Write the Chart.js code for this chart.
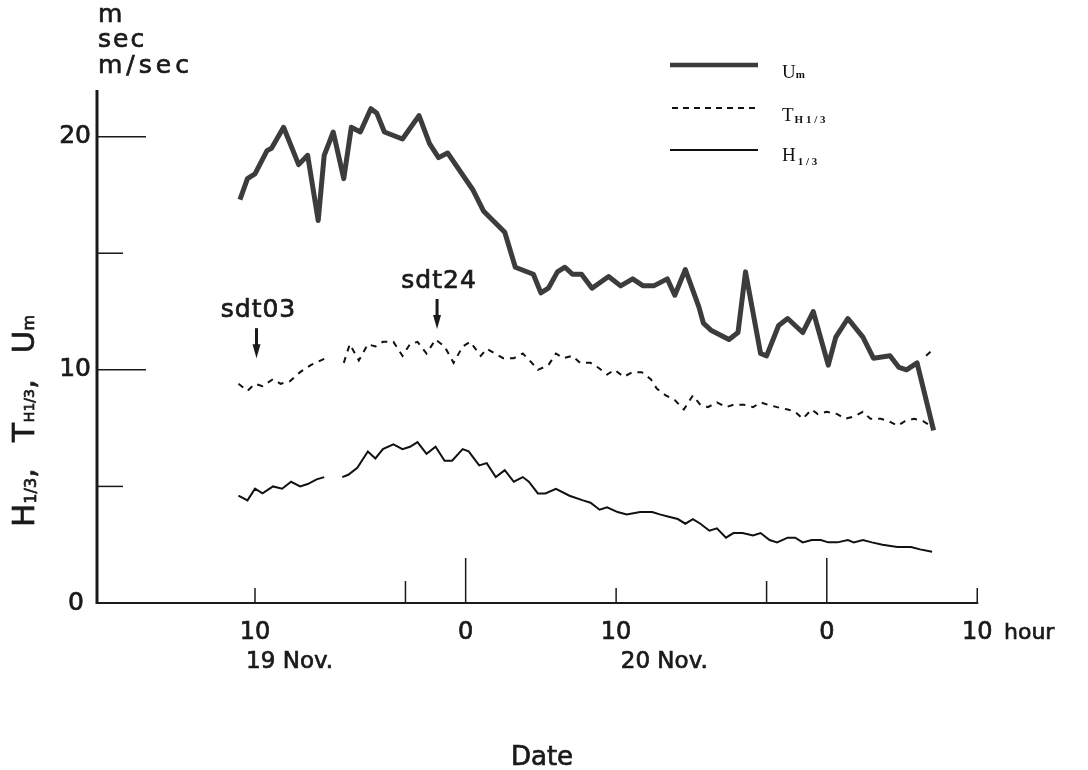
<!DOCTYPE html>
<html lang="en">
<head>
<meta charset="UTF-8">
<title>Um, TH1/3, H1/3</title>
<script src="https://cdn.jsdelivr.net/npm/chart.js"></script>
<style>
    html, body { margin: 0; padding: 0; background: #fff; }
</style>
</head>
<body>
<canvas id="chart" width="1088" height="770"></canvas>
<script>
// hours counted from 19 Nov. 00:00
const umHours = [9.0, 9.5, 10.0, 10.8, 11.1, 11.9, 12.9, 13.5, 14.2, 14.6, 15.2, 15.9, 16.4, 17.0, 17.7, 18.1, 18.6, 19.8, 20.9, 21.6, 22.2, 22.8, 24.5, 25.2, 26.6, 27.3, 28.5, 29.0, 29.5, 30.1, 30.6, 31.1, 31.7, 32.4, 33.5, 34.3, 35.1, 35.8, 36.5, 37.4, 37.9, 38.6, 39.5, 39.8, 40.3, 41.5, 42.1, 42.6, 43.6, 44.0, 44.8, 45.4, 46.4, 47.1, 48.1, 48.6, 49.4, 50.4, 51.1, 52.2, 52.8, 53.3, 54.0, 55.1];
const umValues = [17.3, 18.2, 18.4, 19.4, 19.5, 20.4, 18.8, 19.2, 16.4, 19.2, 20.2, 18.2, 20.4, 20.2, 21.2, 21.0, 20.2, 19.9, 20.9, 19.7, 19.1, 19.3, 17.7, 16.8, 15.9, 14.4, 14.1, 13.3, 13.5, 14.2, 14.4, 14.1, 14.1, 13.5, 14.0, 13.6, 13.9, 13.6, 13.6, 13.9, 13.2, 14.3, 12.7, 12.0, 11.7, 11.3, 11.6, 14.2, 10.7, 10.6, 11.9, 12.2, 11.6, 12.5, 10.2, 11.4, 12.2, 11.4, 10.5, 10.6, 10.1, 10.0, 10.3, 7.4];

const tHours = [8.9, 9.5, 10.0, 10.5, 11.2, 11.7, 12.3, 13.0, 13.7, 14.7, 15.2, 15.9, 16.3, 16.9, 17.5, 18.0, 18.5, 19.2, 19.8, 20.3, 20.8, 21.4, 22.0, 22.6, 23.2, 23.8, 24.3, 25.0, 25.4, 26.5, 27.2, 27.8, 28.4, 28.8, 29.5, 30.0, 30.5, 31.1, 31.6, 32.3, 32.8, 33.4, 33.9, 34.5, 35.1, 35.7, 36.3, 36.7, 37.3, 37.9, 38.5, 39.1, 39.6, 40.1, 40.7, 41.3, 41.8, 42.5, 43.1, 43.6, 44.1, 44.7, 45.4, 45.9, 46.4, 47.0, 47.4, 48.0, 48.7, 49.2, 49.8, 50.4, 50.9, 51.6, 52.1, 52.7, 53.2, 53.8, 54.4, 54.9, 54.9, 54.6, 55.1];
const tValues = [9.4, 9.1, 9.4, 9.3, 9.6, 9.4, 9.5, 9.9, 10.2, 10.5, null, 10.3, 11.1, 10.4, 11.1, 11.0, 11.2, 11.2, 10.6, 11.1, 11.2, 10.7, 11.3, 11.0, 10.3, 11.0, 11.2, 10.6, 10.9, 10.5, 10.5, 10.7, 10.3, 10.0, 10.2, 10.7, 10.5, 10.6, 10.3, 10.3, 10.1, 9.8, 10.0, 9.7, 9.9, 9.9, 9.6, 9.2, 8.9, 8.7, 8.3, 8.9, 8.5, 8.4, 8.6, 8.4, 8.5, 8.5, 8.4, 8.6, 8.5, 8.4, 8.3, 8.2, 7.9, 8.3, 8.1, 8.2, 8.1, 7.9, 8.0, 8.2, 7.9, 7.9, 7.8, 7.6, 7.8, 7.9, 7.8, 7.6, null, 10.6, 10.9];

const hHours = [8.9, 9.5, 10.0, 10.5, 11.2, 11.8, 12.4, 13.0, 13.5, 14.1, 14.6, 15.2, 15.8, 16.2, 16.8, 17.5, 18.0, 18.5, 19.2, 19.8, 20.3, 20.8, 21.4, 22.0, 22.6, 23.1, 23.8, 24.2, 24.9, 25.4, 26.0, 26.6, 27.2, 27.8, 28.2, 28.8, 29.3, 30.0, 30.9, 31.8, 32.3, 32.9, 33.4, 34.1, 34.7, 35.6, 36.4, 36.9, 37.5, 38.1, 38.6, 39.1, 39.6, 40.2, 40.7, 41.3, 41.8, 42.4, 43.1, 43.6, 44.2, 44.7, 45.4, 45.9, 46.4, 47.0, 47.6, 48.1, 48.7, 49.4, 49.8, 50.4, 51.0, 51.7, 52.7, 53.6, 54.2, 55.0];
const hValues = [4.6, 4.4, 4.9, 4.7, 5.0, 4.9, 5.2, 5.0, 5.1, 5.3, 5.4, null, 5.4, 5.5, 5.8, 6.5, 6.2, 6.6, 6.8, 6.6, 6.7, 6.9, 6.4, 6.7, 6.1, 6.1, 6.6, 6.5, 5.9, 6.0, 5.4, 5.7, 5.2, 5.4, 5.2, 4.7, 4.7, 4.9, 4.6, 4.4, 4.3, 4.0, 4.1, 3.9, 3.8, 3.9, 3.9, 3.8, 3.7, 3.6, 3.4, 3.6, 3.4, 3.1, 3.2, 2.8, 3.0, 3.0, 2.9, 3.0, 2.7, 2.6, 2.8, 2.8, 2.6, 2.7, 2.7, 2.6, 2.6, 2.7, 2.6, 2.7, 2.6, 2.5, 2.4, 2.4, 2.3, 2.2];

const xTickHours = [10, 20, 24, 34, 44, 48, 58];
const xTickLabels = ['10', '', '0', '10', '', '0', '10'];
const yTickValues = [5, 10, 15, 20];
const yLabelValues = [0, 10, 20];
const dayLabels = ['19 Nov.', '20 Nov.'];
const dayLabelHours = [12.3, 37.2];
const markLabels = ['sdt03', 'sdt24'];
const markHours = [10.1, 22.1];
const markTips = [10.5, 11.75];

const FONT = '"DejaVu Sans", sans-serif';
const SERIF = '"Liberation Serif", serif';

function toPoints(xs, ys) {
    return xs.map((x, i) => ({ x: x, y: ys[i] }));
}

// slightly heavier text, closer to the printed original
function heavyText(ctx, t, x, y) {
    ctx.fillText(t, x, y);
    ctx.strokeText(t, x, y);
}

function drawParts(ctx, parts, x, y, heavy) {
    let cx = x;
    parts.forEach(p => {
        ctx.font = p.font;
        if (heavy) heavyText(ctx, p.t, cx, y + (p.dy || 0));
        else ctx.fillText(p.t, cx, y + (p.dy || 0));
        cx += ctx.measureText(p.t).width + (p.gap || 0);
    });
}

const overlay = {
    id: 'overlay',
    afterDraw(chart) {
        const ctx = chart.ctx;
        const xs = chart.scales.x;
        const ys = chart.scales.y;
        const x0 = xs.getPixelForValue(xs.min);
        const y0 = ys.getPixelForValue(0);
        const yTop = ys.getPixelForValue(ys.max);
        const xEnd = xs.getPixelForValue(58);

        ctx.save();
        ctx.strokeStyle = '#1a1a1a';
        ctx.fillStyle = '#1a1a1a';
        ctx.lineCap = 'butt';

        // axes
        ctx.lineWidth = 3;
        ctx.beginPath();
        ctx.moveTo(x0, yTop);
        ctx.lineTo(x0, y0 + 1);
        ctx.stroke();
        ctx.lineWidth = 2;
        ctx.beginPath();
        ctx.moveTo(x0, y0);
        ctx.lineTo(xEnd + 1, y0);
        ctx.stroke();

        // y ticks (inside)
        ctx.lineWidth = 1.5;
        yTickValues.forEach(v => {
            const py = ys.getPixelForValue(v);
            const len = v % 10 === 0 ? 49 : 26;
            ctx.beginPath();
            ctx.moveTo(x0, py);
            ctx.lineTo(x0 + len, py);
            ctx.stroke();
        });

        // x ticks (inside)
        xTickHours.forEach((h, i) => {
            const px = xs.getPixelForValue(h);
            let len = 22;
            if (xTickLabels[i] === '0') len = 45;
            else if (xTickLabels[i] !== '') len = 15;
            ctx.beginPath();
            ctx.moveTo(px, y0);
            ctx.lineTo(px, y0 - len);
            ctx.stroke();
        });

        ctx.lineWidth = 0.7;

        // tick labels
        ctx.font = '24px ' + FONT;
        ctx.textBaseline = 'middle';
        ctx.textAlign = 'center';
        xTickHours.forEach((h, i) => {
            if (xTickLabels[i]) heavyText(ctx, xTickLabels[i], xs.getPixelForValue(h), y0 + 30);
        });
        ctx.textAlign = 'left';
        ctx.font = '22px ' + FONT;
        heavyText(ctx, 'hour', 1004, y0 + 30);

        ctx.font = '25px ' + FONT;
        ctx.textAlign = 'right';
        yLabelValues.forEach(v => {
            heavyText(ctx, String(v), v === 0 ? 84 : 91, ys.getPixelForValue(v));
        });

        // day labels and axis title
        ctx.textAlign = 'center';
        ctx.font = '23px ' + FONT;
        dayLabels.forEach((t, i) => heavyText(ctx, t, xs.getPixelForValue(dayLabelHours[i]), 662));
        ctx.font = '26px ' + FONT;
        heavyText(ctx, 'Date', 542, 758);

        // units
        ctx.textAlign = 'left';
        ctx.font = '25px ' + FONT;
        ctx.letterSpacing = '2px';
        heavyText(ctx, 'm', 98, 15);
        heavyText(ctx, 'sec', 98, 40);
        ctx.letterSpacing = '4px';
        heavyText(ctx, 'm/sec', 98, 66);
        ctx.letterSpacing = '0px';

        // rotated y title
        ctx.save();
        ctx.translate(34, 527);
        ctx.rotate(-Math.PI / 2);
        ctx.textBaseline = 'alphabetic';
        const big = '31px ' + FONT;
        const sub = '16px ' + FONT;
        drawParts(ctx, [
            { t: 'H', font: big },
            { t: '1/3', font: sub, dy: 2 },
            { t: ',', font: big, gap: 26 },
            { t: 'T', font: big, gap: 1 },
            { t: 'H1/3', font: '14px ' + FONT, dy: 0 },
            { t: ',', font: big, gap: 26 },
            { t: 'U', font: big },
            { t: 'm', font: sub, dy: 0 }
        ], 0, 0, true);
        ctx.restore();

        // sample markers
        ctx.textAlign = 'center';
        ctx.textBaseline = 'middle';
        markLabels.forEach((t, i) => {
            const px = xs.getPixelForValue(markHours[i]);
            const tip = ys.getPixelForValue(markTips[i]);
            ctx.font = '25px ' + FONT;
            ctx.letterSpacing = '1px';
            ctx.lineWidth = 0.7;
            heavyText(ctx, t, px + 2, tip - 48);
            ctx.letterSpacing = '0px';
            ctx.lineWidth = 3;
            ctx.beginPath();
            ctx.moveTo(px, tip - 30);
            ctx.lineTo(px, tip - 10);
            ctx.stroke();
            ctx.beginPath();
            ctx.moveTo(px - 4, tip - 14);
            ctx.lineTo(px + 4, tip - 14);
            ctx.lineTo(px, tip);
            ctx.closePath();
            ctx.fill();
        });

        // legend
        const lx0 = 670, lx1 = 758;
        ctx.strokeStyle = '#3a3a3a';
        ctx.lineWidth = 4.5;
        ctx.beginPath(); ctx.moveTo(lx0, 65); ctx.lineTo(lx1, 65); ctx.stroke();
        ctx.strokeStyle = '#111';
        ctx.lineWidth = 2;
        ctx.setLineDash([6, 5]);
        ctx.beginPath(); ctx.moveTo(lx0 + 2, 108); ctx.lineTo(lx1, 108); ctx.stroke();
        ctx.setLineDash([]);
        ctx.lineWidth = 2;
        ctx.beginPath(); ctx.moveTo(lx0, 150); ctx.lineTo(lx1, 150); ctx.stroke();

        ctx.textAlign = 'left';
        ctx.textBaseline = 'alphabetic';
        ctx.fillStyle = '#111';
        const lf = '19px ' + SERIF;
        const ls = 'bold 11px ' + SERIF;
        drawParts(ctx, [{ t: 'U', font: lf }, { t: 'm', font: ls, dy: 0 }], 782, 78);
        drawParts(ctx, [{ t: 'T', font: lf, gap: 1 }, { t: 'H 1 / 3', font: ls, dy: 2 }], 782, 121);
        drawParts(ctx, [{ t: 'H', font: lf, gap: 2 }, { t: '1 / 3', font: ls, dy: 4 }], 782, 161);

        ctx.restore();
    }
};

const chart = new Chart(document.getElementById('chart').getContext('2d'), {
    type: 'line',
    data: {
        datasets: [
            {
                label: 'Um',
                data: toPoints(umHours, umValues),
                borderColor: '#3c3c3c',
                borderWidth: 5,
                borderJoinStyle: 'round',
                spanGaps: false
            },
            {
                label: 'TH1/3',
                data: toPoints(tHours, tValues),
                borderColor: '#111',
                borderWidth: 2,
                borderDash: [6, 6],
                spanGaps: false
            },
            {
                label: 'H1/3',
                data: toPoints(hHours, hValues),
                borderColor: '#111',
                borderWidth: 2,
                spanGaps: false
            }
        ]
    },
    options: {
        responsive: false,
        animation: false,
        layout: { padding: { left: 97, top: 90, right: 110, bottom: 167 } },
        scales: {
            x: { type: 'linear', display: false, min: -0.5, max: 58.05 },
            y: { display: false, min: 0, max: 22 }
        },
        elements: {
            point: { radius: 0 },
            line: { tension: 0 }
        },
        plugins: {
            legend: { display: false },
            tooltip: { enabled: false }
        }
    },
    plugins: [overlay]
});
</script>
</body>
</html>
